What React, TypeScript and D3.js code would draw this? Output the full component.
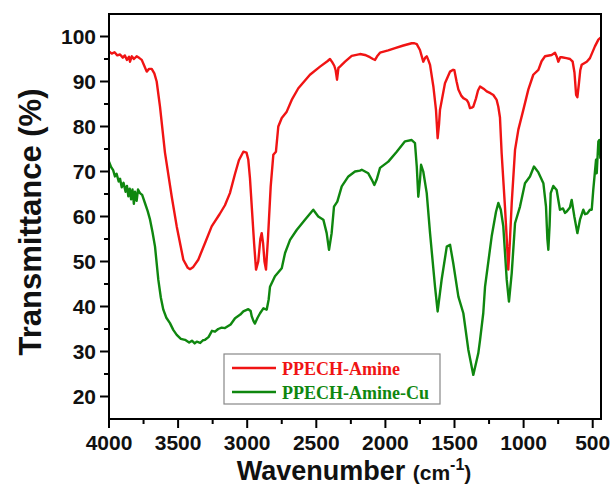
import React from "react";
import * as d3 from "d3";

const W = 615;
const H = 490;

const xTicks = [4000, 3500, 3000, 2500, 2000, 1500, 1000, 500];
const xMinorTicks = [3750, 3250, 2750, 2250, 1750, 1250, 750];
const yTicks = [20, 30, 40, 50, 60, 70, 80, 90, 100];
const yMinorTicks = [25, 35, 45, 55, 65, 75, 85, 95];

const seriesNames = ["PPECH-Amine", "PPECH-Amine-Cu"];
const seriesColors = ["#f01414", "#0f870f"];

const amineWn = [
  4000, 3980, 3960, 3940, 3920, 3900, 3885, 3870, 3855, 3848, 3835, 3820, 3800, 3780, 3763, 3745, 3727, 3710, 3691, 3672,
  3655, 3631, 3595, 3546, 3510, 3462, 3430, 3414, 3390, 3354, 3300, 3257, 3200, 3161, 3125, 3088, 3060, 3028, 3005, 2992,
  2980, 2967, 2950, 2936, 2920, 2905, 2895, 2885, 2875, 2864, 2850, 2830, 2811, 2792, 2775, 2750, 2714, 2678, 2630, 2546,
  2473, 2420, 2401, 2385, 2370, 2360, 2350, 2340, 2329, 2292, 2244, 2184, 2148, 2112, 2090, 2075, 2060, 2039, 1980, 1930,
  1870, 1810, 1790, 1773, 1750, 1726, 1712, 1701, 1690, 1677, 1653, 1634, 1622, 1612, 1605, 1569, 1532, 1510, 1501, 1485,
  1472, 1450, 1436, 1412, 1400, 1388, 1375, 1364, 1345, 1330, 1315, 1290, 1267, 1240, 1219, 1195, 1183, 1171, 1159, 1135,
  1120, 1111, 1100, 1086, 1062, 1038, 1002, 966, 930, 893, 870, 845, 797, 773, 760, 749, 735, 724, 690, 664,
  645, 632, 620, 611, 600, 590, 580, 543, 520, 484, 459, 445,
];
const amineT = [
  96.7, 96.2, 96.5, 95.8, 96.0, 95.3, 95.8, 94.8, 95.5, 94.4, 95.6, 95.0, 95.6, 95.2, 94.8, 93.5, 92.2, 92.8, 92.8, 91.8,
  90.0, 84.4, 74.2, 64.4, 57.8, 50.4, 48.6, 48.3, 48.8, 50.4, 54.5, 57.8, 60.5, 62.5, 65.2, 69.5, 72.5, 74.4, 74.2, 72.6,
  68.5, 62.2, 54.0, 48.2, 50.0, 55.0, 56.3, 54.0, 50.0, 48.2, 55.0, 66.7, 73.7, 74.4, 80.0, 81.9, 83.3, 85.9, 88.5, 91.5,
  93.3, 94.5, 95.0, 94.3, 93.5, 92.5, 90.4, 93.0, 93.3, 94.4, 95.7, 96.1, 95.9, 95.4, 95.0, 94.8, 95.6, 96.4, 96.9, 97.4,
  98.0, 98.5, 98.5, 98.3, 97.0, 94.4, 95.3, 95.6, 94.8, 93.7, 88.9, 83.7, 77.4, 80.5, 83.7, 89.6, 92.2, 92.6, 92.5, 90.0,
  88.2, 86.8, 86.3, 85.9, 85.3, 84.1, 84.2, 84.4, 86.2, 88.0, 88.9, 88.4, 87.8, 87.4, 87.0, 85.9, 84.4, 82.0, 74.1, 62.2,
  54.0, 48.2, 54.0, 63.0, 74.8, 79.3, 83.7, 88.2, 91.5, 92.6, 94.5, 95.6, 95.9, 96.4, 95.5, 94.4, 95.4, 95.4, 95.2, 95.0,
  94.4, 92.0, 87.0, 86.5, 89.5, 92.5, 93.7, 94.4, 95.2, 97.8, 99.3, 99.7,
];

const cuWn = [
  4000, 3985, 3970, 3957, 3945, 3930, 3920, 3908, 3895, 3880, 3870, 3860, 3850, 3840, 3830, 3820, 3812, 3800, 3790, 3776,
  3760, 3740, 3720, 3703, 3685, 3667, 3643, 3625, 3607, 3585, 3559, 3535, 3510, 3480, 3450, 3420, 3400, 3380, 3365, 3340,
  3320, 3305, 3280, 3255, 3233, 3210, 3185, 3161, 3120, 3088, 3050, 3028, 2992, 2975, 2967, 2955, 2944, 2925, 2907, 2883,
  2859, 2845, 2835, 2799, 2750, 2726, 2690, 2642, 2582, 2522, 2486, 2449, 2425, 2408, 2389, 2372, 2348, 2316, 2268, 2220,
  2184, 2171, 2124, 2099, 2080, 2063, 2039, 1979, 1918, 1858, 1810, 1786, 1773, 1762, 1750, 1742, 1726, 1701, 1677, 1641,
  1622, 1593, 1556, 1532, 1509, 1472, 1436, 1400, 1364, 1328, 1315, 1292, 1279, 1231, 1200, 1183, 1165, 1147, 1122, 1106,
  1086, 1062, 1026, 990, 954, 925, 893, 857, 838, 828, 821, 812, 804, 785, 761, 737, 715, 700, 688, 665,
  652, 633, 611, 592, 568, 555, 539, 520, 507, 496, 476, 471, 459, 452, 445,
];
const cuT = [
  72.2, 71.0, 70.3, 68.9, 69.5, 67.8, 68.4, 66.5, 67.5, 65.5, 66.8, 64.5, 66.2, 63.8, 66.0, 62.8, 65.5, 63.5, 66.0, 65.2,
  64.8, 63.0, 61.2, 59.3, 56.5, 53.3, 45.9, 42.0, 39.3, 37.5, 36.3, 34.8, 33.7, 32.8, 32.6, 32.0, 32.4, 31.8, 32.2, 31.9,
  32.5, 32.6, 33.2, 34.6, 34.4, 35.0, 35.3, 35.2, 36.0, 37.4, 38.2, 38.9, 39.4, 39.0, 37.8, 36.8, 36.2, 37.5, 38.5, 39.6,
  39.3, 41.5, 44.4, 46.7, 48.5, 51.9, 54.8, 57.0, 59.3, 61.5, 60.0, 59.3, 56.3, 52.6, 56.3, 62.2, 63.3, 66.7, 68.9, 70.0,
  70.2, 70.4, 69.6, 68.2, 67.0, 68.2, 70.8, 72.2, 74.4, 76.7, 77.0, 76.3, 71.1, 64.4, 68.0, 71.5, 70.0, 65.2, 56.3, 44.4,
  38.9, 46.0, 53.3, 53.7, 49.6, 42.2, 38.5, 30.4, 24.8, 29.6, 32.6, 38.5, 44.4, 55.6, 61.0, 63.0, 61.5, 57.8, 45.9, 41.1,
  47.4, 58.5, 62.2, 67.4, 68.9, 71.1, 69.8, 67.4, 62.2, 55.0, 52.6, 58.0, 65.2, 66.8, 65.9, 61.5, 61.8, 60.8, 61.1, 62.0,
  63.7, 60.0, 56.3, 59.3, 61.5, 60.5, 60.7, 61.5, 61.5, 65.9, 72.6, 69.6, 76.7, 77.0, 73.0,
];

const margin = { left: 109, right: 14, top: 14, bottom: 71 };

export default function App() {
  const x = d3.scaleLinear().domain([4000, 440]).range([margin.left, W - margin.right]);
  const y = d3.scaleLinear().domain([15, 105]).range([H - margin.bottom, margin.top]);
  const line = d3
    .line<[number, number]>()
    .x((d) => x(d[0]))
    .y((d) => y(d[1]))
    .curve(d3.curveLinear);

  const series = [
    d3.zip(amineWn, amineT) as [number, number][],
    d3.zip(cuWn, cuT) as [number, number][],
  ];

  const x0 = margin.left;
  const x1 = W - margin.right;
  const y0 = H - margin.bottom;
  const y1 = margin.top;
  const tickFont = "'Liberation Sans', Arial, sans-serif";

  const lgX = 224;
  const lgY = 354;
  const lgW = 216;
  const lgH = 50;

  return (
    <svg width={W} height={H} style={{ position: "absolute", left: 0, top: 0, background: "#fff" }}>
      <style>{`body{margin:0}`}</style>
      <rect x={0} y={0} width={W} height={H} fill="#fff" />
      <defs>
        <clipPath id="plotclip">
          <rect x={x0} y={y1} width={x1 - x0} height={y0 - y1} />
        </clipPath>
      </defs>
      <g clipPath="url(#plotclip)">
        {series.map((s, i) => (
          <path
            key={i}
            d={line(s) || ""}
            fill="none"
            stroke={seriesColors[i]}
            strokeWidth={2.4}
            strokeLinejoin="round"
            strokeLinecap="round"
          />
        ))}
      </g>
      {/* frame */}
      <rect x={x0} y={y1} width={x1 - x0} height={y0 - y1} fill="none" stroke="#000" strokeWidth={2} />
      {/* y ticks */}
      {yTicks.map((t) => (
        <g key={"y" + t}>
          <line x1={x0 - 9} x2={x0} y1={y(t)} y2={y(t)} stroke="#000" strokeWidth={2} />
          <text
            x={x0 - 13}
            y={y(t)}
            dy="0.36em"
            textAnchor="end"
            fontFamily={tickFont}
            fontWeight="bold"
            fontSize={21}
            fill="#111"
          >
            {t}
          </text>
        </g>
      ))}
      {yMinorTicks.map((t) => (
        <line key={"ym" + t} x1={x0 - 5} x2={x0} y1={y(t)} y2={y(t)} stroke="#000" strokeWidth={2} />
      ))}
      {/* x ticks */}
      {xTicks.map((t) => (
        <g key={"x" + t}>
          <line x1={x(t)} x2={x(t)} y1={y0} y2={y0 + 9} stroke="#000" strokeWidth={2} />
          <text
            x={x(t)}
            y={y0 + 31}
            textAnchor="middle"
            fontFamily={tickFont}
            fontWeight="bold"
            fontSize={21}
            fill="#111"
          >
            {t}
          </text>
        </g>
      ))}
      {xMinorTicks.map((t) => (
        <line key={"xm" + t} x1={x(t)} x2={x(t)} y1={y0} y2={y0 + 5} stroke="#000" strokeWidth={2} />
      ))}
      {/* axis titles */}
      <text
        x={354}
        y={480}
        textAnchor="middle"
        fontFamily={tickFont}
        fontWeight="bold"
        fontSize={27}
        fill="#111"
      >
        Wavenumber{" "}
        <tspan fontSize={21}>(cm</tspan>
        <tspan fontSize={16} dy={-10}>-1</tspan>
        <tspan fontSize={21} dy={10}>)</tspan>
      </text>
      <text
        transform={`translate(41, 222) rotate(-90)`}
        textAnchor="middle"
        fontFamily={tickFont}
        fontWeight="bold"
        fontSize={31}
        fill="#111"
      >
        Transmittance (%)
      </text>
      {/* legend */}
      <rect x={lgX} y={lgY} width={lgW} height={lgH} fill="#fff" stroke="#888" strokeWidth={1.2} />
      {seriesNames.map((n, i) => (
        <g key={n}>
          <line
            x1={lgX + 8}
            x2={lgX + 52}
            y1={lgY + 14 + i * 24}
            y2={lgY + 14 + i * 24}
            stroke={seriesColors[i]}
            strokeWidth={2.4}
          />
          <text
            x={lgX + 58}
            y={lgY + 21 + i * 24}
            fontFamily="'Liberation Serif', 'Times New Roman', serif"
            fontWeight="bold"
            fontSize={18}
            fill={seriesColors[i]}
          >
            {n}
          </text>
        </g>
      ))}
    </svg>
  );
}
